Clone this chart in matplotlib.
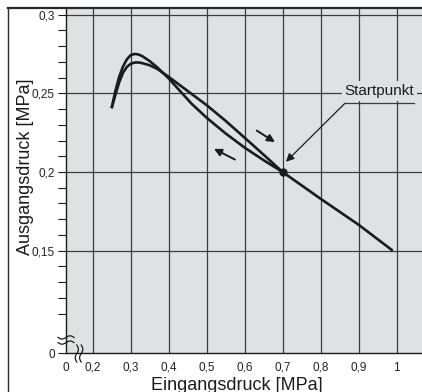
import numpy as np
import matplotlib
matplotlib.use("Agg")
import matplotlib.pyplot as plt
from matplotlib.lines import Line2D
from matplotlib import font_manager

# ---- data ----
# increasing input pressure (lower peak), runs on to the end point
inc_x = [0.25, 0.26, 0.27, 0.28, 0.29, 0.30, 0.31, 0.32, 0.33, 0.35, 0.37, 0.40, 0.45,
         0.50, 0.55, 0.60, 0.65, 0.70, 0.80, 0.90, 0.99]
inc_y = [0.2405, 0.2490, 0.2570, 0.2630, 0.2667, 0.2687, 0.2695, 0.2696, 0.2692, 0.2678,
         0.2655, 0.2605, 0.2515, 0.2425, 0.2325, 0.2218, 0.2110, 0.2000, 0.1830, 0.1665, 0.1500]
# decreasing input pressure from the start point (higher peak)
dec_x = [0.70, 0.65, 0.60, 0.55, 0.50, 0.46, 0.43, 0.40, 0.37, 0.35, 0.33, 0.32, 0.31,
         0.30, 0.29, 0.28, 0.27, 0.26, 0.25]
dec_y = [0.2000, 0.2075, 0.2155, 0.2245, 0.2345, 0.2435, 0.2515, 0.2595, 0.2665, 0.2705,
         0.2737, 0.2747, 0.2750, 0.2742, 0.2715, 0.2670, 0.2605, 0.2515, 0.2405]
start_pt = (0.70, 0.20)

x_ticks = [0.13, 0.2, 0.3, 0.4, 0.5, 0.6, 0.7, 0.8, 0.9, 1.0]
x_labels = ["0", "0,2", "0,3", "0,4", "0,5", "0,6", "0,7", "0,8", "0,9", "1"]
y_ticks = [0.0848, 0.15, 0.20, 0.25, 0.30]
y_labels = ["0", "0,15", "0,2", "0,25", "0,3"]
y_minor = [0.11, 0.12, 0.13, 0.14, 0.16, 0.17, 0.18, 0.19, 0.21, 0.22, 0.23, 0.24,
           0.26, 0.27, 0.28, 0.29]

names = {f.name for f in font_manager.fontManager.ttflist}
base_font = "Liberation Sans" if "Liberation Sans" in names else "DejaVu Sans"
narrow_font = "Liberation Sans Narrow" if "Liberation Sans Narrow" in names else base_font
plt.rcParams["font.family"] = [base_font, "DejaVu Sans"]

BG = "#e0e1e3"
GRID = "#3c3c3c"
INK = "#1b1b1b"

W, H = 422, 392
fig = plt.figure(figsize=(W / 100, H / 100), dpi=100)
ax = fig.add_axes([66 / W, (H - 353.3) / H, (W - 66) / W, (353.3 - 7.5) / H])
ax.set_facecolor(BG)
ax.set_xlim(0.13, 1.067)
ax.set_ylim(0.0848, 0.3045)

for v in x_ticks[1:]:
    ax.axvline(v, color=GRID, lw=0.9, zorder=1)
for v in y_ticks[1:]:
    ax.axhline(v, color=GRID, lw=0.9, zorder=1)

ax.plot(inc_x, inc_y, color=INK, lw=1.9, solid_capstyle="butt", solid_joinstyle="round", zorder=3)
ax.plot(dec_x, dec_y, color=INK, lw=1.9, solid_capstyle="butt", solid_joinstyle="round", zorder=3)
ax.plot(*start_pt, "o", color=INK, ms=5, zorder=4)

# direction arrows
ax.annotate("", xy=(0.680, 0.2190), xytext=(0.632, 0.2263),
            arrowprops=dict(arrowstyle="-|>", color=INK, lw=1.4, mutation_scale=11,
                            shrinkA=0, shrinkB=0), zorder=4)
ax.annotate("", xy=(0.5195, 0.2147), xytext=(0.5747, 0.2079),
            arrowprops=dict(arrowstyle="-|>", color=INK, lw=1.4, mutation_scale=11,
                            shrinkA=0, shrinkB=0), zorder=4)

# Startpunkt label
ax.text(0.955, 0.2512, "Startpunkt", fontsize=11, family=[narrow_font, "DejaVu Sans"],
        ha="center", va="center", color=INK, zorder=5,
        bbox=dict(boxstyle="square,pad=0.2", fc=BG, ec="none"))
ax.plot([0.864, 1.045], [0.2436, 0.2436], color=GRID, lw=0.9, zorder=5)
ax.annotate("", xy=(0.709, 0.2065), xytext=(0.864, 0.2436),
            arrowprops=dict(arrowstyle="-|>", color=INK, lw=0.9, mutation_scale=12,
                            shrinkA=0, shrinkB=0), zorder=5)

ax.set_xticks(x_ticks, x_labels)
ax.set_yticks(y_ticks, y_labels)
ax.set_yticks(y_minor, minor=True)
ax.tick_params(axis="x", length=0, pad=6, labelsize=8.5, colors=INK)
ax.tick_params(axis="y", which="major", length=6, width=0.8, pad=2, labelsize=8.5, colors=INK)
ax.tick_params(axis="y", which="minor", length=6, width=0.8, colors=INK)
ax.tick_params(axis="both", labelcolor="#222222")
ax.spines["right"].set_visible(False)
ax.spines["top"].set_visible(False)
for s in ["left", "bottom"]:
    ax.spines[s].set_color(INK)
    ax.spines[s].set_linewidth(1.0)

# axis break marks
t = np.linspace(0, 1, 40)
for dy in (-2.6, 2.6):
    xs = 58 + 16 * t
    ys = 340 + dy + 1.6 * np.sin(2 * np.pi * t)
    fig.add_artist(Line2D(xs / W, (H - ys) / H, color=INK, lw=0.9))
for dx in (-2.2, 2.2):
    ys = 345 + 17 * t
    xs = 79 + dx + 1.6 * np.sin(2 * np.pi * t)
    fig.add_artist(Line2D(xs / W, (H - ys) / H, color=INK, lw=0.9))

# outer frame
fig.add_artist(Line2D([8 / W, 1.0], [(H - 7.5) / H] * 2, color="#2a2a2a", lw=1.6))
fig.add_artist(Line2D([8 / W] * 2, [0, (H - 7.5) / H], color="#2a2a2a", lw=1.0))

fig.text(236.5 / W, 2.5 / H, "Eingangsdruck [MPa]", fontsize=13, ha="center", va="baseline", color=INK)
fig.text(25.5 / W, (H - 167) / H, "Ausgangsdruck [MPa]", fontsize=13, rotation=90,
         ha="center", va="center", color=INK)

fig.savefig("out.png", dpi=100, facecolor="white")
